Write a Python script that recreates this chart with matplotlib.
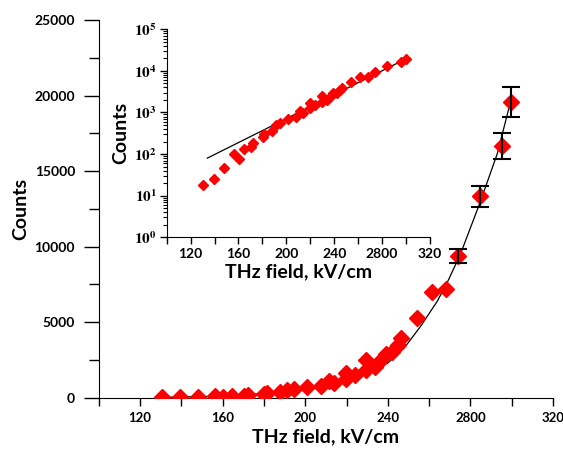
import matplotlib
matplotlib.use("Agg")
import matplotlib.pyplot as plt
from matplotlib.ticker import FixedLocator, NullFormatter, LogLocator

# --------------------------------------------------------------------------- #
# Data
# --------------------------------------------------------------------------- #

field = [130.6, 139.5, 148.1, 156.2, 160.1, 164.6, 170.2, 172.4, 180.2, 181.3,
         187.7, 191.1, 194.7, 201.1, 207.8, 211.4, 214.1, 219.7, 219.7, 223.9,
         229.5, 229.5, 233.7, 236.4, 239.2, 242.0, 244.8, 246.2, 254.0, 261.4,
         268.2, 274.2, 284.4, 295.4, 299.8]
counts = [18, 25, 47, 100, 76, 130, 145, 182, 262, 300,
          360, 500, 550, 700, 760, 1090, 990, 1660, 1260, 1510,
          2500, 1820, 2000, 2400, 2900, 3000, 3470, 3960, 5300, 7000,
          7200, 9380, 13320, 16650, 19560]

# error bars on the last four points
err_field = [274.2, 284.4, 295.4, 299.8]
err_counts = [9380, 13320, 16650, 19560]
err_size = [470, 670, 850, 1000]

# fit curve as drawn on the linear plot
fit_field = [130, 140, 155, 170, 185, 200, 210, 220, 230, 240, 248, 256,
             264, 268.5, 275, 284.2, 293, 300]
fit_counts = [25, 45, 95, 180, 330, 600, 850, 1200, 1700, 2300, 3300, 4750,
              6400, 7550, 9450, 12750, 16150, 19900]

# fit line as drawn on the log inset
fit_log_field = [134, 300]
fit_log_counts = [80, 19500]

x_ticks = [120, 160, 200, 240, 280, 320]
x_tick_labels = ["120", "160", "200", "240", "2800", "320"]
y_ticks = [0, 5000, 10000, 15000, 20000, 25000]
log_ticks = [1, 10, 100, 1000, 10000, 100000]
log_tick_labels = [r"$\mathbf{10^{%d}}$" % i for i in range(6)]

# --------------------------------------------------------------------------- #
# Plot
# --------------------------------------------------------------------------- #

plt.rcParams["font.family"] = ["Lato", "DejaVu Sans"]
plt.rcParams["font.weight"] = "bold"
plt.rcParams["mathtext.fontset"] = "stix"

fig = plt.figure(figsize=(5.63, 4.5), dpi=100)
ax = fig.add_axes([0.1753, 0.1162, 0.807, 0.8393])

ax.plot(fit_field, fit_counts, color="black", lw=0.9, zorder=2)
ax.plot(field, counts, "D", color="#ff0000", ms=8, mec="#ff0000", zorder=3)
ax.errorbar(err_field, err_counts, yerr=err_size, fmt="none", ecolor="black",
            elinewidth=1.5, capsize=6.5, capthick=1.5, zorder=4)

ax.set_xlim(100, 320)
ax.set_ylim(0, 25000)
for s in ("top", "right"):
    ax.spines[s].set_visible(False)
ax.xaxis.set_major_locator(FixedLocator(x_ticks))
ax.set_xticklabels(x_tick_labels)
ax.xaxis.set_minor_locator(FixedLocator([100, 140, 180, 220, 260, 300]))
ax.yaxis.set_major_locator(FixedLocator(y_ticks))
ax.yaxis.set_minor_locator(FixedLocator([2500, 7500, 12500, 17500, 22500]))
ax.tick_params(axis="x", which="both", length=6, width=1, labelsize=9.5, pad=4)
ax.tick_params(axis="y", which="major", length=11, width=1, labelsize=10, pad=6)
ax.tick_params(axis="y", which="minor", length=7, width=1)
ax.set_xlabel("THz field, kV/cm", fontsize=14, fontweight="bold", labelpad=3)
ax.set_ylabel("Counts", fontsize=14, fontweight="bold", labelpad=4)

# inset on log scale
ins = fig.add_axes([0.296, 0.4727, 0.4677, 0.4622])
ins.plot(fit_log_field, fit_log_counts, color="black", lw=0.9, zorder=2)
ins.plot(field, counts, "D", color="#ff0000", ms=5, mec="#ff0000", zorder=3)
ins.set_yscale("log")
ins.set_xlim(100, 320)
ins.set_ylim(1, 1e5)
for s in ("top", "right"):
    ins.spines[s].set_visible(False)
ins.xaxis.set_major_locator(FixedLocator(x_ticks))
ins.set_xticklabels(x_tick_labels)
ins.xaxis.set_minor_locator(FixedLocator([100, 140, 180, 220, 260, 300]))
ins.yaxis.set_major_locator(FixedLocator(log_ticks))
ins.set_yticklabels(log_tick_labels)
ins.yaxis.set_minor_locator(LogLocator(base=10, subs=range(2, 10), numticks=20))
ins.yaxis.set_minor_formatter(NullFormatter())
ins.tick_params(axis="x", which="both", length=5, width=1, labelsize=10, pad=3)
ins.tick_params(axis="y", which="major", length=5, width=1, labelsize=11, pad=2)
ins.tick_params(axis="y", which="minor", length=3, width=0.8)
ins.set_xlabel("THz field, kV/cm", fontsize=14, fontweight="bold", labelpad=2)
ins.set_ylabel("Counts", fontsize=14, fontweight="bold", labelpad=4)

fig.savefig("out.png", dpi=100)
